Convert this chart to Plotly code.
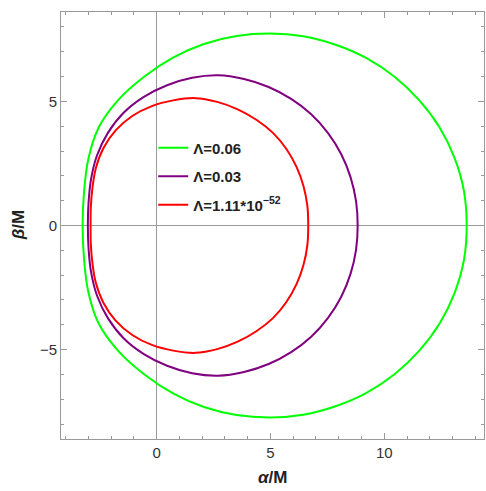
import numpy as np
import plotly.graph_objects as go

# Upper-half shadow contours (alpha/M, beta/M); the lower half is the mirror image in beta
green_alpha = [13.62, 13.50, 13.09, 12.43, 11.53, 10.45, 9.22, 7.86, 6.44, 4.98,
               3.51, 2.08, 0.72, -0.52, -1.68, -2.55, -3.00, -3.19, -3.25]
green_beta = [0.00, 1.38, 2.71, 3.95, 5.05, 5.99, 6.74, 7.28, 7.62, 7.73,
              7.63, 7.31, 6.76, 6.01, 5.06, 3.94, 2.68, 1.33, 0.00]

purple_alpha = [8.83, 8.76, 8.52, 8.11, 7.53, 6.79, 5.91, 4.92, 3.84, 2.70,
                1.56, 0.46, -0.56, -1.45, -2.14, -2.62, -2.88, -2.99, -3.02]
purple_beta = [0.00, 0.98, 1.94, 2.87, 3.72, 4.48, 5.10, 5.58, 5.90, 6.05,
               5.95, 5.65, 5.18, 4.54, 3.73, 2.82, 1.87, 0.92, 0.00]

red_alpha = [6.66, 6.62, 6.45, 6.15, 5.70, 5.11, 4.38, 3.56, 2.66, 1.70,
             0.73, -0.21, -1.07, -1.80, -2.34, -2.67, -2.82, -2.89, -2.90]
red_beta = [0.00, 0.80, 1.59, 2.35, 3.08, 3.73, 4.26, 4.68, 4.98, 5.13,
            5.04, 4.81, 4.41, 3.83, 3.11, 2.31, 1.51, 0.74, 0.00]

series_names = ["Λ=0.06", "Λ=0.03", "Λ=1.11*10<sup>−52</sup>"]
series_colors = ["#00ff00", "#800080", "#ff0000"]

x_ticks = [0, 5, 10]
y_ticks = [-5, 0, 5]
y_tick_text = ["−5", "0", "5"]

FONT = "Liberation Sans, Arial, sans-serif"


def closed_contour(a, b):
    """Join the upper half with its mirror image into one closed loop."""
    a = np.asarray(a, dtype=float)
    b = np.asarray(b, dtype=float)
    xs = np.concatenate([a, a[::-1][1:]])
    ys = np.concatenate([b, -b[::-1][1:]])
    return xs, ys


fig = go.Figure()
curves = [(green_alpha, green_beta), (purple_alpha, purple_beta), (red_alpha, red_beta)]
for i, ((a, b), name, col) in enumerate(zip(curves, series_names, series_colors)):
    xs, ys = closed_contour(a, b)
    fig.add_trace(go.Scatter(
        x=xs, y=ys, mode="lines", name=name, legendgroup=f"g{i}",
        line=dict(color=col, width=2, shape="spline", smoothing=1.0),
    ))

axis_common = dict(
    showline=True, mirror="allticks", linecolor="#9a9a9a", linewidth=1,
    ticks="inside", ticklen=6, tickcolor="#9a9a9a", tickwidth=1,
    showgrid=False, zeroline=True, zerolinecolor="#9a9a9a", zerolinewidth=1,
    tickfont=dict(family=FONT, size=15, color="#333333"),
    minor=dict(ticks="inside", ticklen=3, tickcolor="#9a9a9a", dtick=1, showgrid=False),
)

fig.update_layout(
    width=486, height=491,
    margin=dict(l=61, r=2, t=12, b=52),
    paper_bgcolor="white", plot_bgcolor="white",
    showlegend=True,
    legend=dict(
        x=0.218, y=0.72, xanchor="left", yanchor="top",
        bgcolor="rgba(0,0,0,0)", borderwidth=0, tracegroupgap=6,
        font=dict(family=FONT, size=15, color="#222222", weight="bold"),
    ),
    xaxis=dict(range=[-4.2, 14.38], tickvals=x_ticks,
               ticktext=[str(v) for v in x_ticks], **axis_common),
    yaxis=dict(range=[-8.6, 8.6], tickvals=y_ticks, ticktext=y_tick_text, **axis_common),
    annotations=[
        dict(text="<b><i>α</i>/M</b>", xref="paper", yref="paper", x=0.5, y=-0.091,
             xanchor="center", yanchor="middle", showarrow=False,
             font=dict(family=FONT, size=17, color="#222222")),
        dict(text="<b><i>β</i>/M</b>", xref="paper", yref="paper", x=-0.1, y=0.5,
             xanchor="center", yanchor="middle", showarrow=False, textangle=-90,
             font=dict(family=FONT, size=17, color="#222222")),
    ],
)

fig.write_html("out.html")
